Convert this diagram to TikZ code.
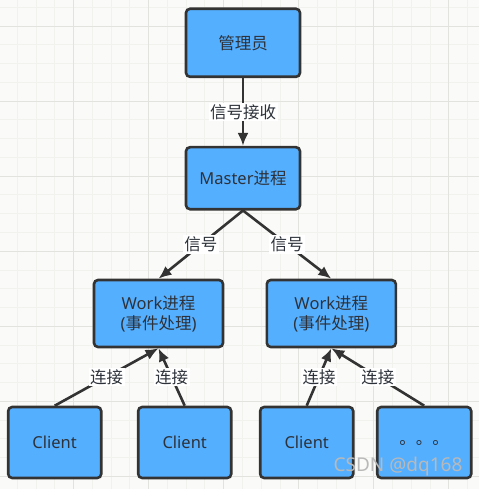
\documentclass[tikz,border=0pt]{standalone}
\usepackage{fontspec}
\setmainfont{Noto Sans CJK SC}
\newfontfamily\latinfont{Noto Sans}
\usetikzlibrary{arrows.meta}
\definecolor{bgcol}{RGB}{250,250,248}
\definecolor{gridmin}{RGB}{241,241,238}
\definecolor{gridmaj}{RGB}{226,226,223}
\definecolor{boxblue}{RGB}{85,175,255}
\definecolor{edgecol}{RGB}{51,51,51}
\definecolor{txtcol}{RGB}{45,50,58}
\definecolor{markcol}{RGB}{185,185,185}
\newcommand{\lat}[1]{{\latinfont #1}}

\begin{document}
\begin{tikzpicture}[x=1pt,y=-1pt,>={Latex[length=13pt,width=11pt]},
  box/.style={draw=edgecol,line width=2.6pt,fill=boxblue,rounded corners=4pt,
    text=txtcol,font=\fontsize{16.5}{20}\selectfont,align=center,inner sep=0pt},
  link/.style={->,draw=edgecol,line width=2.6pt},
  tag/.style={fill=white,text=txtcol,font=\fontsize{16.5}{18}\selectfont,inner sep=1.5pt}]
  % paper with grid
  \fill[bgcol] (0,0) rectangle (479,489);
  \useasboundingbox (0,0) rectangle (479,489);
  \foreach \k in {1,...,25}{
    \draw[gridmin,line width=0.9pt] ({-1.58+18.77*\k},0) -- ({-1.58+18.77*\k},489);
  }
  \foreach \k in {0,...,25}{
    \draw[gridmin,line width=0.9pt] (0,{7.23+18.77*\k}) -- (479,{7.23+18.77*\k});
  }
  \foreach \j in {0,...,5}{
    \draw[gridmaj,line width=0.9pt] ({73.5+75.08*\j},0) -- ({73.5+75.08*\j},489);
  }
  \foreach \j in {0,...,6}{
    \draw[gridmaj,line width=0.9pt] (0,{26+75.08*\j}) -- (479,{26+75.08*\j});
  }
  % processes
  \node[box,minimum width=114pt,minimum height=68pt] (admin) at (243,42.8) {管理员};
  \node[box,minimum width=114pt,minimum height=62pt] (master) at (243,178.2) {\lat{Master}进程};
  \node[box,minimum width=129pt,minimum height=67pt] (workA) at (158.5,313.5) {\lat{Work}进程\\\lat{(}事件处理\lat{)}};
  \node[box,minimum width=129pt,minimum height=67pt] (workB) at (331.3,313.5) {\lat{Work}进程\\\lat{(}事件处理\lat{)}};
  % clients
  \node[box,minimum width=93pt,minimum height=71pt] (clientA) at (54.7,442.5) {\lat{Client}};
  \node[box,minimum width=93pt,minimum height=71pt] (clientB) at (184.7,442.5) {\lat{Client}};
  \node[box,minimum width=93pt,minimum height=71pt] (clientC) at (306.7,442.5) {\lat{Client}};
  \node[box,minimum width=94pt,minimum height=71pt] (more) at (424.2,442.5) {。。。};
  % signals and connections
  \draw[link] (admin) -- node[tag]{信号接收} (master);
  \draw[link] (master.south) -- node[tag]{信号} (workA.north);
  \draw[link] (master.south) -- node[tag]{信号} (workB.north);
  \draw[link] (clientA.north) -- node[tag]{连接} (workA.south);
  \draw[link] (clientB.north) -- node[tag]{连接} (workA.south);
  \draw[link] (clientC.north) -- node[tag]{连接} (workB.south);
  \draw[link] (more.north) -- node[tag]{连接} (workB.south);
  \node[text=markcol,font=\latinfont\fontsize{19}{19}\selectfont] (mark) at (398,467) {CSDN @dq168};
\end{tikzpicture}
\end{document}
